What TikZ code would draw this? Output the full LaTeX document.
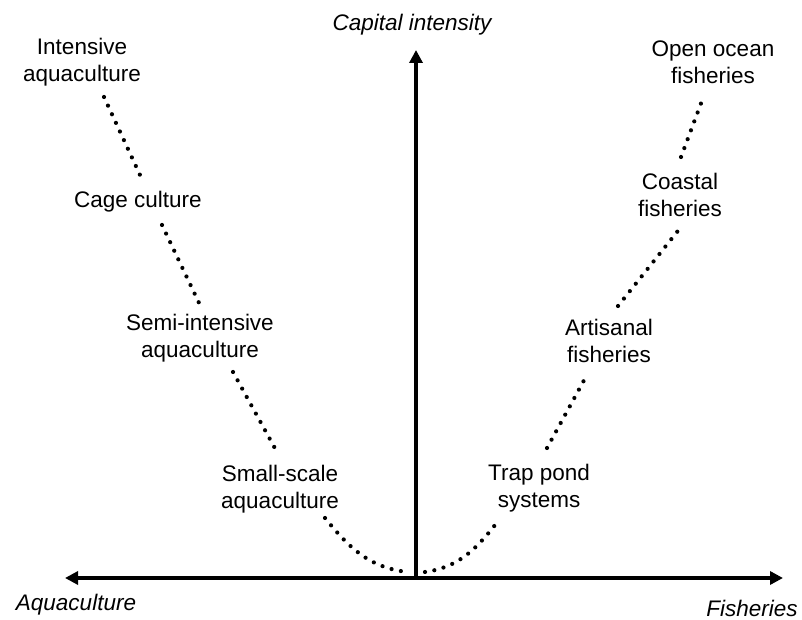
\documentclass[tikz,border=0pt]{standalone}
\usepackage{fontspec}
\setmainfont{Liberation Sans}
\usetikzlibrary{arrows.meta}

\begin{document}
\begin{tikzpicture}[x=1pt,y=1pt]
  \tikzstyle{lbl}=[align=center,font=\fontsize{22.5}{27}\selectfont,inner sep=0pt]
  \tikzstyle{axlbl}=[font=\fontsize{22.5}{27}\selectfont\itshape,inner sep=0pt]
  \tikzstyle{dotline}=[line width=4.2pt,line cap=round,dash pattern=on 0pt off 9.5pt]
  \tikzstyle{axisline}=[line width=3.3pt]
  \useasboundingbox (0,0) rectangle (802,620);
  % axes
  \coordinate (o) at (416,42);
  \coordinate (l) at (65,42);
  \coordinate (r) at (783,42);
  \coordinate (t) at (416,570);
  \draw[axisline,{Triangle[length=13pt,width=13pt]}-{Triangle[length=13pt,width=13pt]}] (l) -- (r);
  \draw[axisline,-{Triangle[length=13pt,width=13pt]}] (o) -- (t);
  \node[axlbl] (cap) at (412,595) {Capital intensity};
  \node[axlbl] (aq) at (76,15) {Aquaculture};
  \node[axlbl] (fish) at (752,12) {Fisheries};
  % aquaculture side
  \node[lbl] (intens) at (82,558) {Intensive\\aquaculture};
  \node[lbl] (cage) at (138,418) {Cage culture};
  \node[lbl] (semi) at (200,282) {Semi-intensive\\aquaculture};
  \node[lbl] (small) at (280,131) {Small-scale\\aquaculture};
  % fisheries side
  \node[lbl] (trap) at (539,132) {Trap pond\\systems};
  \node[lbl] (artis) at (609,279) {Artisanal\\fisheries};
  \node[lbl] (coast) at (680,425) {Coastal\\fisheries};
  \node[lbl] (ocean) at (713,558) {Open ocean\\fisheries};
  % dotted curve
  \draw[dotline] ([shift={(22,-35)}]intens.center) -- ([shift={(2,27)}]cage.center);
  \draw[dotline] ([shift={(24,-23)}]cage.center) -- ([shift={(0,33)}]semi.center);
  \draw[dotline] ([shift={(33,-34)}]semi.center) -- ([shift={(-3,37)}]small.center);
  \draw[dotline] ([shift={(45,-29)}]small.center) to[out=-51,in=173] ([shift={(-9,6)}]o);
  \draw[dotline] ([shift={(9,6)}]o) to[out=8,in=-128] ([shift={(-40,-32)}]trap.center);
  \draw[dotline] ([shift={(8,40)}]trap.center) -- ([shift={(-21,-32)}]artis.center);
  \draw[dotline] ([shift={(9,35)}]artis.center) -- ([shift={(1,-32)}]coast.center);
  \draw[dotline] ([shift={(1,38)}]coast.center) -- ([shift={(-10,-36)}]ocean.center);
\end{tikzpicture}
\end{document}
